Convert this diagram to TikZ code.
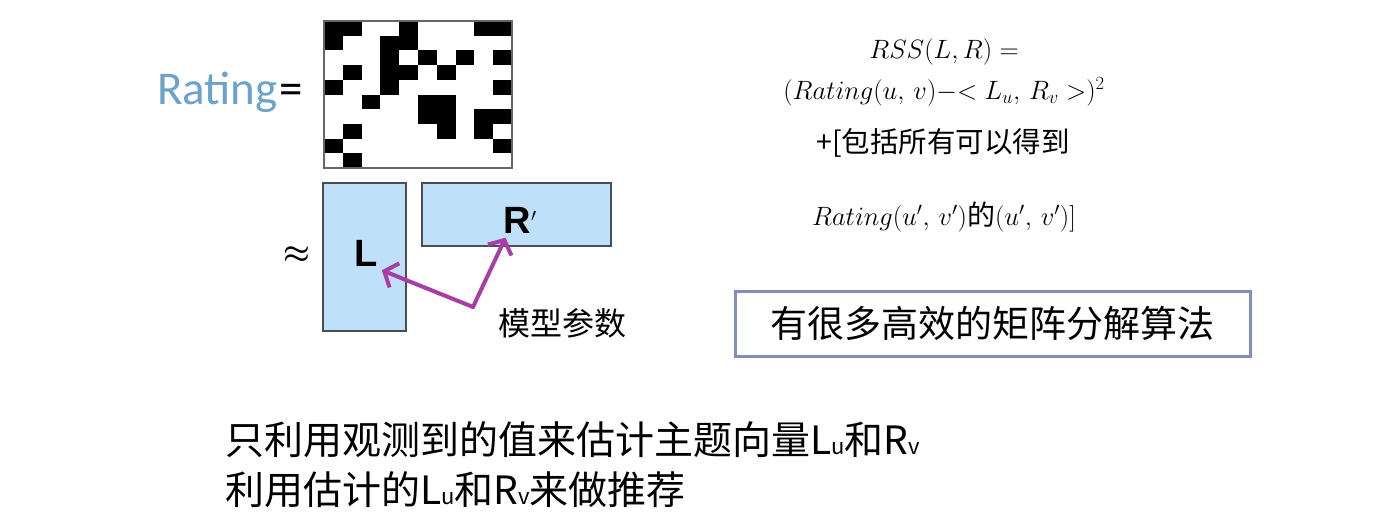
\RequirePackage{fix-cm}
\documentclass[tikz,border=0pt]{standalone}
\usepackage{amsmath}
\usepackage{fontspec}
\usetikzlibrary{arrows.meta}
\newfontfamily\cjk{Noto Sans CJK SC}
\newfontfamily\calibri{Carlito}
\newfontfamily\arialfont{Liberation Sans}
\newcommand\smallsub[1]{{\fontsize{22}{22}\selectfont #1}}

\definecolor{ratingblue}{RGB}{108,163,205}
\definecolor{factorblue}{RGB}{190,224,248}
\definecolor{factorgray}{RGB}{72,78,88}
\definecolor{arrowpurple}{RGB}{168,62,165}
\definecolor{boxframe}{RGB}{128,142,190}

\tikzset{
  factor/.style={draw=factorgray, line width=2pt, fill=factorblue, inner sep=0pt},
  letter/.style={font=\arialfont\bfseries\fontsize{38}{38}\selectfont, inner sep=4pt},
  param/.style={draw=arrowpurple, line width=4pt, line cap=round,
    -{Straight Barb[length=11pt,width=26pt]}},
  cjktext/.style={font=\cjk\fontsize{39}{46}\selectfont, inner sep=0pt},
  formula/.style={font=\fontsize{26.5}{32}\selectfont, inner sep=0pt},
}

\begin{document}
\begin{tikzpicture}[x=1pt,y=-1pt]
\useasboundingbox[fill=white] (0,0) rectangle (1400,519);

\node[anchor=base west, inner sep=0pt, font=\calibri\fontsize{47}{56}\selectfont]
  (rating) at (157,104) {\textcolor{ratingblue}{Rating}\kern2pt=};

\foreach \c/\r in {0/0,1/0,4/0,8/0,9/0, 0/1,3/1,4/1, 3/2,5/2,7/2,9/2,
  1/3,3/3,4/3,6/3, 0/4,3/4,9/4, 2/5,5/5,6/5, 5/6,6/6,8/6,9/6,
  1/7,6/7,8/7, 0/8,9/8, 1/9}
\fill (324+18.8*\c,21+14.7*\r) rectangle ++(18.8,14.7);
\draw[line width=2pt, draw=black!60] (324,21) rectangle (512,168);

\node[font=\fontsize{30}{30}\selectfont, inner sep=0pt] (approx) at (297,255) {$\boldsymbol{\approx}$};
\node[factor, minimum width=83pt, minimum height=148pt] (L) at (364.5,257) {};
\node[factor, minimum width=189pt, minimum height=63pt] (R) at (516,214.5) {};
\node[letter] (Lname) at (366,253) {L};
\node[letter, anchor=base west] (Rname) at (499.5,233.5) {R\raisebox{3pt}{\fontsize{26}{26}\selectfont$'$}};

\coordinate (pivot) at (473,307);
\draw[param] (pivot) -- (Lname.south east);
\draw[param] (pivot) -- ([xshift=6pt]Rname.south west);
\node[cjktext, font=\cjk\fontsize{32}{38}\selectfont] (params) at (562,323) {模型参数};

\node[formula] (rss) at (944,52) {$RSS(L,R) =$};
\node[formula] (resid) at (944,92) {$(Rating(u,\,v){-}{<}\;L_u,\,R_v\;{>})^2$};
\node[formula, font=\cjk\fontsize{28.5}{32}\selectfont] (incl) at (943,143) {+[包括所有可以得到};
\node[formula] (pairs) at (944,217) {$Rating(u',\,v')${\cjk\fontsize{28}{30}\selectfont 的}$(u',\,v')]$};

\node[cjktext, font=\cjk\fontsize{37}{44}\selectfont, draw=boxframe, line width=3pt,
  minimum width=515pt, minimum height=65pt]
  (algos) at (992.5,323.5) {有很多高效的矩阵分解算法};

\node[cjktext, anchor=west] (line1) at (225,440)
  {只利用观测到的值来估计主题向量L\smallsub{u}和R\smallsub{v}};
\node[cjktext, anchor=west] (line2) at (225,490)
  {利用估计的L\smallsub{u}和R\smallsub{v}来做推荐};
\end{tikzpicture}
\end{document}
